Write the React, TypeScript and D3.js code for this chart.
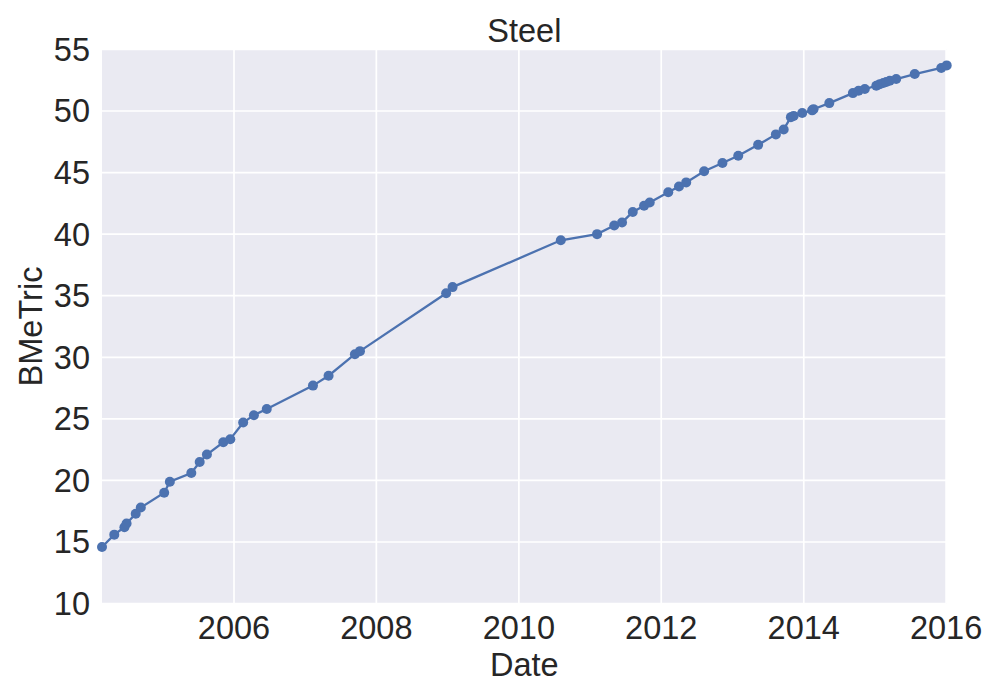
import React from "react";
import * as d3 from "d3";

const dates: string[] = [
  "2004-02-24", "2004-04-27", "2004-06-18", "2004-06-29", "2004-08-15", "2004-09-10",
  "2005-01-08", "2005-02-06", "2005-05-27", "2005-07-09", "2005-08-15", "2005-11-07",
  "2005-12-13", "2006-02-17", "2006-04-13", "2006-06-18", "2007-02-10", "2007-05-01",
  "2007-09-13", "2007-10-09", "2008-12-24", "2009-01-26", "2010-08-04", "2011-02-06",
  "2011-05-05", "2011-06-14", "2011-08-08", "2011-10-05", "2011-11-03", "2012-02-06",
  "2012-04-01", "2012-05-08", "2012-08-08", "2012-11-10", "2013-01-30", "2013-05-12",
  "2013-08-11", "2013-09-20", "2013-10-27", "2013-11-10", "2013-12-24", "2014-02-13",
  "2014-02-20", "2014-05-12", "2014-09-10", "2014-10-09", "2014-11-10", "2015-01-08",
  "2015-01-26", "2015-02-13", "2015-02-28", "2015-03-18", "2015-04-20", "2015-07-24",
  "2015-12-07", "2016-01-04",
];

const values: number[] = [
  14.6, 15.6, 16.2, 16.5, 17.3, 17.8,
  19.0, 19.9, 20.6, 21.5, 22.1, 23.1,
  23.35, 24.7, 25.3, 25.8, 27.7, 28.5,
  30.25, 30.5, 35.2, 35.7, 39.5, 40.0,
  40.7, 40.95, 41.8, 42.3, 42.57, 43.4,
  43.87, 44.2, 45.1, 45.77, 46.36, 47.25,
  48.1, 48.5, 49.5, 49.6, 49.83, 50.05,
  50.15, 50.64, 51.45, 51.64, 51.78, 52.05,
  52.18, 52.27, 52.35, 52.45, 52.59, 53.0,
  53.49, 53.7,
];

const yTicks: number[] = [10, 15, 20, 25, 30, 35, 40, 45, 50, 55];
const xTickYears: number[] = [2006, 2008, 2010, 2012, 2014, 2016];

const title = "Steel";
const xLabel = "Date";
const yLabel = "BMeTric";

export default function App() {
  const W = 1000;
  const H = 700;
  const left = 102;
  const right = 946.7;
  const top = 49.4;
  const bottom = 603.6;
  const font = "'Liberation Sans', Arial, sans-serif";
  const fs = 32.5;
  const textColor = "#262626";
  const lineColor = "#4C72B0";

  const parsed = dates.map((d) => d3.timeParse("%Y-%m-%d")(d) as Date);
  const data = parsed.map((d, i) => ({ date: d, value: values[i] }));

  const x = d3
    .scaleTime()
    .domain(d3.extent(parsed) as [Date, Date])
    .range([left, right]);
  const y = d3.scaleLinear().domain([10, 55]).range([bottom, top]);

  const line = d3
    .line<{ date: Date; value: number }>()
    .x((d) => x(d.date))
    .y((d) => y(d.value));

  const xTicks = xTickYears.map((yr) => new Date(yr, 0, 1));

  return (
    <svg
      width={W}
      height={H}
      style={{ position: "absolute", left: 0, top: 0, display: "block", background: "#fff" }}
    >
      <rect x={left} y={top} width={right - left} height={bottom - top} fill="#EAEAF2" />
      {yTicks.map((t) => (
        <line key={"gy" + t} x1={left} x2={right} y1={y(t)} y2={y(t)} stroke="#fff" strokeWidth={1.7} />
      ))}
      {xTicks.map((t, i) => (
        <line key={"gx" + i} x1={x(t)} x2={x(t)} y1={top} y2={bottom} stroke="#fff" strokeWidth={1.7} />
      ))}
      <path d={line(data) || ""} fill="none" stroke={lineColor} strokeWidth={2.3} />
      {data.map((d, i) => (
        <circle key={i} cx={x(d.date)} cy={y(d.value)} r={5} fill={lineColor} />
      ))}
      {yTicks.map((t) => (
        <text
          key={"ty" + t}
          x={90}
          y={y(t)}
          dy="0.35em"
          textAnchor="end"
          fontFamily={font}
          fontSize={fs}
          fill={textColor}
        >
          {t}
        </text>
      ))}
      {xTicks.map((t, i) => (
        <text
          key={"tx" + i}
          x={x(t)}
          y={639}
          textAnchor="middle"
          fontFamily={font}
          fontSize={fs}
          fill={textColor}
        >
          {xTickYears[i]}
        </text>
      ))}
      <text x={(left + right) / 2} y={42} textAnchor="middle" fontFamily={font} fontSize={fs} fill={textColor}>
        {title}
      </text>
      <text x={(left + right) / 2} y={676} textAnchor="middle" fontFamily={font} fontSize={fs} fill={textColor}>
        {xLabel}
      </text>
      <text
        transform={`translate(42, ${(top + bottom) / 2}) rotate(-90)`}
        textAnchor="middle"
        fontFamily={font}
        fontSize={fs}
        fill={textColor}
      >
        {yLabel}
      </text>
    </svg>
  );
}
